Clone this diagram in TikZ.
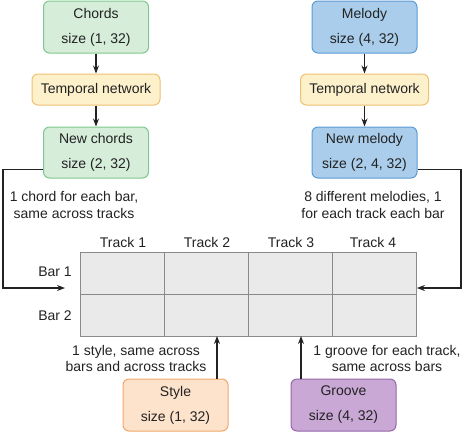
\documentclass[tikz,border=0pt]{standalone}
\usepackage{fontspec}
\setmainfont{Liberation Sans}
\usetikzlibrary{arrows.meta,calc}
\definecolor{gfill}{HTML}{D6EDDA}\definecolor{gdraw}{HTML}{7FC88C}
\definecolor{bfill}{HTML}{A9CDEA}\definecolor{bdraw}{HTML}{5B9BD5}
\definecolor{yfill}{HTML}{FDF1CC}\definecolor{ydraw}{HTML}{F0C070}
\definecolor{ofill}{HTML}{FDE2CC}\definecolor{odraw}{HTML}{F0A868}
\definecolor{pfill}{HTML}{C9A8D6}\definecolor{pdraw}{HTML}{9467A8}
\definecolor{cfill}{HTML}{EAEAEA}\definecolor{cdraw}{HTML}{8A8A8A}
\definecolor{ink}{HTML}{222222}
\tikzset{
  box/.style={rounded corners=6pt, line width=1pt, minimum width=105pt, minimum height=52pt,
    align=center, inner sep=0pt, text=ink, font=\fontsize{14}{25}\selectfont},
  tnet/.style={box, fill=yfill, draw=ydraw, minimum width=128pt, minimum height=31pt},
  cell/.style={draw=cdraw, fill=cfill, line width=0.8pt, minimum width=84pt, minimum height=42pt, inner sep=0pt},
  lbl/.style={text=ink, font=\fontsize{14}{16.5}\selectfont, align=center, inner sep=0pt},
  conn/.style={draw=ink, line width=1.1pt, -{Stealth[length=8pt,width=6pt]}},
}
\begin{document}
\begin{tikzpicture}[x=1pt,y=-1pt]
\useasboundingbox (0,0) rectangle (466,432);
% left column
\node[box, fill=gfill, draw=gdraw] (ch) at (96,27) {Chords\\size (1, 32)};
\node[tnet] (tl) at (96,89.5) {Temporal network};
\node[box, fill=gfill, draw=gdraw, minimum height=51pt] (nc) at (96,152.5) {New chords\\size (2, 32)};
% right column
\node[box, fill=bfill, draw=bdraw] (me) at (364.5,27) {Melody\\size (4, 32)};
\node[tnet] (tr) at (364.5,89.5) {Temporal network};
\node[box, fill=bfill, draw=bdraw, minimum height=51pt] (nm) at (364.5,152.5) {New melody\\size (2, 4, 32)};
% grid
\node[cell] (c11) at (122.5,273) {};
\node[cell] (c12) at (206.5,273) {};
\node[cell] (c13) at (290.5,273) {};
\node[cell] (c14) at (374.5,273) {};
\node[cell] (c21) at (122.5,315) {};
\node[cell] (c22) at (206.5,315) {};
\node[cell] (c23) at (290.5,315) {};
\node[cell] (c24) at (374.5,315) {};
\node[lbl] (t1) at (123,242) {Track 1};
\node[lbl] (t2) at (207,242) {Track 2};
\node[lbl] (t3) at (291,242) {Track 3};
\node[lbl] (t4) at (373,242) {Track 4};
\node[lbl] (b1) at (55,272) {Bar 1};
\node[lbl] (b2) at (55,316) {Bar 2};
% bottom boxes
\node[box, fill=ofill, draw=odraw] (st) at (175.5,405) {Style\\size (1, 32)};
\node[box, fill=pfill, draw=pdraw] (gr) at (343.5,405) {Groove\\size (4, 32)};
% labels
\node[lbl] (lc) at (74,205) {1 chord for each bar,\\same across tracks};
\node[lbl] (lm) at (373,205) {8 different melodies, 1\\for each track each bar};
\node[lbl] (ls) at (136,358.5) {1 style, same across\\bars and across tracks};
\node[lbl] (lg) at (387,358.5) {1 groove for each track,\\same across bars};
% connectors
\draw[conn] (ch) -- (tl);
\draw[conn] (tl) -- (nc);
\draw[conn] (me) -- (tr);
\draw[conn] (tr) -- (nm);
\coordinate (ncw) at ($(nc.south west)+(0,-9)$);
\coordinate (lend) at (65,288);
\draw[conn, rounded corners=0pt] (ncw) -| (3,288) -- (lend);
\coordinate (nme) at ($(nm.south east)+(0,-9)$);
\coordinate (rend) at (c14.east |- 0,288);
\draw[conn] (nme) -| (461,288) -- (rend);
\draw[conn] (st.north -| 217,0) -- (217,336);
\draw[conn] (gr.north -| 301,0) -- (301,336);
\end{tikzpicture}
\end{document}
